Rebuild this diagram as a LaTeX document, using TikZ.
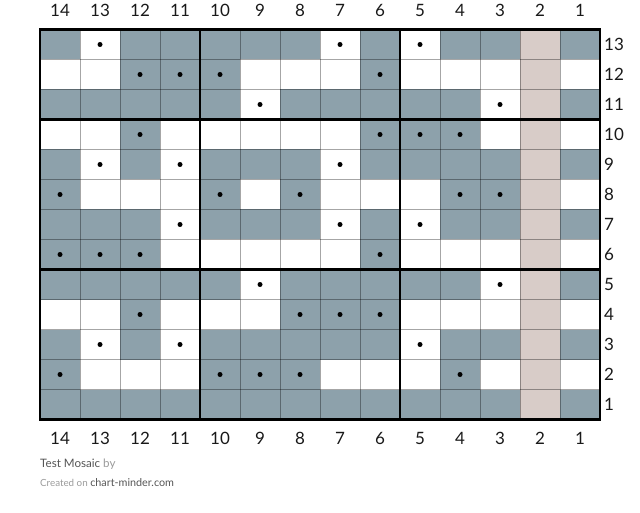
\documentclass[tikz,border=0pt]{standalone}
\usepackage{fontspec}
\setmainfont{Lato}
\definecolor{mosaicgray}{HTML}{8DA1AB}
\definecolor{mosaicbeige}{HTML}{D8CCC8}
\definecolor{footdark}{HTML}{555555}
\definecolor{footlight}{HTML}{9A9A9A}
\tikzset{
  gridline/.style={draw=black, draw opacity=0.35, line width=1pt},
  blockline/.style={draw=black, line width=2.2pt},
  numlabel/.style={font=\fontsize{17}{20}\selectfont, text=black!90, inner sep=0pt},
  stitch/.style={fill=black}
}

\begin{document}
\begin{tikzpicture}[x=1pt,y=-1pt]
\useasboundingbox (0,0) rectangle (640,513);
\fill[white] (40,29.5) rectangle (600,419.5);
\fill[mosaicbeige] (520,29.5) rectangle (560,419.5);
\foreach \r/\grays in {13/{14,12,11,10,9,8,6,4,3,1}, 12/{12,11,10,6},
    11/{14,13,12,11,10,8,7,6,5,4,1}, 10/{12,6,5,4},
    9/{14,12,10,9,8,6,5,4,3,1}, 8/{14,10,8,4,3},
    7/{14,13,12,10,9,8,6,4,3,1}, 6/{14,13,12,6},
    5/{14,13,12,11,10,8,7,6,5,4,1}, 4/{12,8,7,6},
    3/{14,12,10,9,8,7,6,4,3,1}, 2/{14,10,9,8,4},
    1/{14,13,12,11,10,9,8,7,6,5,4,3,1}}
  \foreach \c in \grays
    \fill[mosaicgray] ({40+(14-\c)*40},{29.5+(13-\r)*30}) rectangle +(40,30);
\foreach \r/\marks in {13/{13,7,5}, 12/{12,11,10,6}, 11/{9,3}, 10/{12,6,5,4},
    9/{13,11,7}, 8/{14,10,8,4,3}, 7/{11,7,5}, 6/{14,13,12,6},
    5/{9,3}, 4/{12,8,7,6}, 3/{13,11,5}, 2/{14,10,9,8,4}}
  \foreach \c in \marks
    \fill[stitch] ({60+(14-\c)*40},{44.5+(13-\r)*30}) circle (2.5);
\foreach \i in {1,...,13}
  \draw[gridline] ({40+\i*40},29.5) -- ({40+\i*40},419.5);
\foreach \j in {1,...,12}
  \draw[gridline] (40,{29.5+\j*30}) -- (600,{29.5+\j*30});
\draw[blockline] (200,29.5) -- (200,419.5);
\draw[blockline] (400,29.5) -- (400,419.5);
\draw[blockline] (40,119.5) -- (600,119.5);
\draw[blockline] (40,269.5) -- (600,269.5);
\draw[blockline, line width=2.6pt] (40,29.5) rectangle (600,419.5);
\foreach \c in {1,...,14} {
  \node[numlabel] (top\c) at ({60+(14-\c)*40},10) {\c};
  \node[numlabel] (bottom\c) at ({60+(14-\c)*40},438) {\c};
}
\foreach \r in {1,...,13}
  \node[numlabel, anchor=west] (row\r) at (604,{44.5+(13-\r)*30}) {\r};
\node[anchor=west, inner sep=0pt, font=\fontsize{11.6}{14}\selectfont] (title) at (40,464)
  {\textcolor{footdark}{Test Mosaic} \textcolor{footlight}{by}};
\node[anchor=west, inner sep=0pt] (credit) at (40,483)
  {\textcolor{footlight}{\fontsize{9.8}{12}\selectfont Created on} \textcolor{footdark}{\fontsize{10.8}{13}\selectfont chart-minder.com}};
\end{tikzpicture}
\end{document}
